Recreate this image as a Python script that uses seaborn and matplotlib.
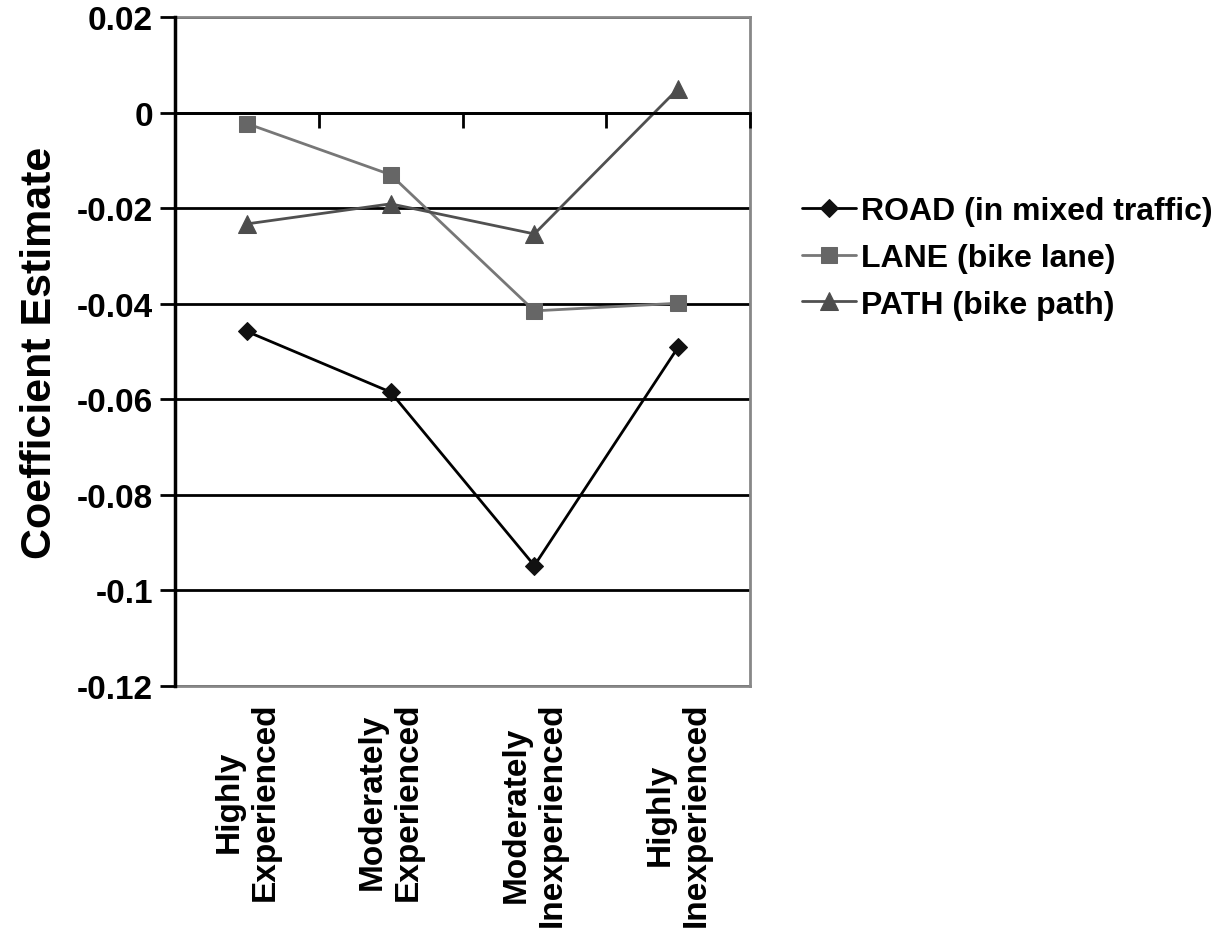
import matplotlib
matplotlib.use("Agg")
import matplotlib.pyplot as plt
import seaborn as sns
import pandas as pd

categories = ["Highly\nExperienced", "Moderately\nExperienced",
              "Moderately\nInexperienced", "Highly\nInexperienced"]
road = [-0.0458, -0.0585, -0.0948, -0.0491]
lane = [-0.0023, -0.0130, -0.0415, -0.0399]
path = [-0.0233, -0.0191, -0.0254, 0.0050]
series_names = ["ROAD (in mixed traffic)", "LANE (bike lane)", "PATH (bike path)"]
ytick_vals = [0.02, 0.0, -0.02, -0.04, -0.06, -0.08, -0.10, -0.12]
ytick_labels = ["0.02", "0", "-0.02", "-0.04", "-0.06", "-0.08", "-0.1", "-0.12"]
ylabel = "Coefficient Estimate"

sns.set_theme(style="white")
plt.rcParams['font.family'] = ['Liberation Sans', 'DejaVu Sans']
plt.rcParams['font.weight'] = 'bold'
plt.rcParams['text.color'] = 'black'
plt.rcParams['axes.labelcolor'] = 'black'
plt.rcParams['xtick.color'] = 'black'
plt.rcParams['ytick.color'] = 'black'

fig = plt.figure(figsize=(12.29, 9.45), dpi=100)
ax = fig.add_axes([175/1229, 1-687/945, (750-175)/1229, (687-18)/945])

styles = [
    dict(color="#000000", marker="D", markersize=9, mfc="#111111", mec="#111111"),
    dict(color="#777777", marker="s", markersize=11, mfc="#666666", mec="#666666"),
    dict(color="#505050", marker="^", markersize=13, mfc="#4d4d4d", mec="#4d4d4d"),
]
for name, vals, st in zip(series_names, [road, lane, path], styles):
    df = pd.DataFrame({"cat": categories, "val": vals})
    sns.lineplot(data=df, x="cat", y="val", sort=False, ax=ax, label=name,
                 linewidth=2.0, markerfacecolor=st["mfc"], markeredgecolor=st["mec"],
                 color=st["color"], marker=st["marker"], markersize=st["markersize"],
                 zorder=3)

ax.set_xlim(-0.5, len(categories) - 0.5)
ax.set_ylim(-0.12, 0.02)
ax.set_yticks(ytick_vals)
ax.set_yticklabels(ytick_labels, fontsize=24, fontweight='bold')
ax.set_xticks(range(len(categories)))
ax.set_xticklabels(categories, rotation=90, fontsize=24, fontweight='bold',
                   multialignment='center')
ax.tick_params(axis='x', length=0, pad=11)
ax.tick_params(axis='y', direction='out', length=11, width=2, color='black', pad=5, left=True)
ax.set_xlabel("")
ax.set_ylabel(ylabel, fontsize=31, fontweight='bold', labelpad=12)

ax.yaxis.grid(True, color='black', linewidth=2)
ax.xaxis.grid(False)
ax.set_axisbelow(True)
for s in ['top', 'right', 'bottom']:
    ax.spines[s].set_color('#888888')
    ax.spines[s].set_linewidth(2)
    ax.spines[s].set_zorder(2.6)
ax.spines['left'].set_color('black')
ax.spines['left'].set_linewidth(2.5)
ax.spines['left'].set_zorder(2.7)

# category axis at y = 0 with boundary tick marks
ax2 = ax.twiny()
ax2.set_xlim(ax.get_xlim())
ax2.spines['bottom'].set_position(('data', 0))
ax2.xaxis.set_ticks_position('bottom')
ax2.set_xticks([i - 0.5 for i in range(len(categories) + 1)])
ax2.set_xticklabels([])
ax2.tick_params(axis='x', direction='out', length=11, width=2, color='black')
for s in ['top', 'right', 'left']:
    ax2.spines[s].set_visible(False)
ax2.spines['bottom'].set_color('black')
ax2.spines['bottom'].set_linewidth(2)
ax2.patch.set_visible(False)

handles, labels = ax.get_legend_handles_labels()
ax.legend(handles, labels, loc='center left', bbox_to_anchor=(802/1229, 1-259/945),
          bbox_transform=fig.transFigure, frameon=False,
          handlelength=1.7, handletextpad=0.15, labelspacing=0.52,
          borderpad=0, borderaxespad=0, prop={'weight': 'bold', 'size': 23})

fig.savefig("out.png", dpi=100)
